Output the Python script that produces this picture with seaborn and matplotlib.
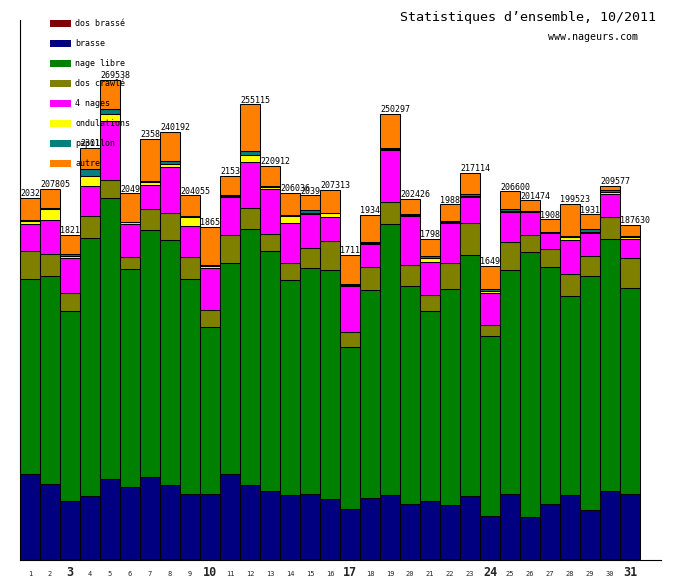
import numpy as np
import pandas as pd
import matplotlib
matplotlib.use("Agg")
import matplotlib.pyplot as plt
from matplotlib.patches import Rectangle
import seaborn as sns

# ---------------- data (in swims) ----------------
days = [str(d) for d in range(1, 32)]
bold_days = ["3", "10", "17", "24", "31"]

series_names = ["dos brassé", "brasse", "nage libre", "dos crawlé",
                "4 nages", "ondulations", "papillon", "autre"]
series_colors = ["#800000", "#000080", "#008000", "#808000",
                 "#FF00FF", "#FFFF00", "#008080", "#FF8000"]

dos_brasse = [0.1, 0.1, 0.5, 0.1, 0.5, 0.1, 0.5, 0.5, 0.5, 0.1, 0.1, 0.1, 0.1, 0.1, 0.5, 0.1,
              0.1, 0.1, 0.1, 0.1, 0.5, 0.5, 0.1, 0.1, 0.1, 0.1, 0.1, 0.5, 0.5, 0.5, 0.5]
brasse = [47.8, 42.7, 32.7, 35.9, 45.0, 40.9, 46.1, 41.6, 36.6, 37.0, 48.2, 42.0, 38.7, 36.4, 36.6, 34.2,
          28.6, 34.7, 36.4, 31.4, 32.7, 30.4, 35.9, 24.7, 37.0, 24.1, 31.4, 36.0, 27.6, 38.3, 36.6]
nage_libre = [109.6, 116.3, 106.4, 144.5, 157.4, 122.1, 138.3, 137.2, 120.4, 93.5, 118.2, 143.4, 134.4,
              120.4, 126.6, 128.2, 90.7, 116.5, 151.8, 122.1, 106.4, 121.0, 135.0, 100.8, 125.4, 148.4,
              132.7, 111.4, 131.0, 141.1, 115.4]
dos_crawle = [15.7, 12.5, 10.2, 12.3, 10.1, 6.7, 11.8, 15.1, 12.3, 9.5, 15.7, 11.8, 9.5, 9.5, 11.2, 16.2,
              8.4, 12.9, 12.3, 11.8, 9.0, 14.6, 17.9, 6.2, 15.7, 9.5, 10.1, 12.3, 11.2, 12.3, 16.8]
quatre_nages = [15.1, 18.9, 19.4, 16.8, 32.6, 18.5, 13.4, 25.8, 17.4, 23.5, 21.3, 25.8, 25.2, 22.4, 19.0,
                13.4, 25.8, 12.9, 29.1, 27.4, 18.5, 22.4, 14.6, 17.9, 16.8, 12.9, 9.0, 19.0, 12.9, 12.9, 10.6]
ondulations = [1.5, 5.9, 0.9, 5.6, 4.3, 0.7, 1.5, 1.7, 5.0, 1.1, 0.2, 3.9, 0.7, 3.9, 0.2, 2.2,
               0.2, 0.2, 0.2, 0.2, 2.2, 0.2, 0.2, 1.1, 0.2, 0.2, 0.2, 1.5, 0.2, 1.1, 1.1]
papillon = [0.8, 0.7, 1.1, 3.9, 2.8, 0.3, 0.7, 1.3, 0.2, 0.7, 0.6, 1.8, 0.7, 0.7, 1.7, 0.2,
            0.7, 0.7, 0.7, 0.6, 0.7, 0.7, 1.1, 0.7, 1.1, 0.2, 0.2, 0.7, 1.7, 1.1, 0.7]
autre = [12.3, 10.6, 10.9, 11.8, 16.2, 16.1, 23.6, 16.6, 11.8, 21.1, 11.0, 26.3, 11.4, 12.2, 8.4, 12.7,
         16.5, 15.3, 19.3, 8.8, 9.9, 9.4, 12.2, 13.3, 10.1, 6.0, 7.0, 18.0, 8.4, 2.2, 6.0]

total_labels = ["2032", "207805", "1821", "2301", "269538", "2049", "2358", "240192", "204055",
                "1865", "2153", "255115", "220912", "206036", "2039", "207313", "1711", "1934",
                "250297", "202426", "1798", "1988", "217114", "1649", "206600", "201474", "1908",
                "199523", "1931", "209577", "187630"]

title = "Statistiques d’ensemble, 10/2011"
subtitle = "www.nageurs.com"

layers = [dos_brasse, brasse, nage_libre, dos_crawle, quatre_nages, ondulations, papillon, autre]
layers = [np.array(l) * 1000.0 for l in layers]

# ---------------- figure ----------------
sns.set_theme(style="white")
plt.rcParams["font.family"] = ["DejaVu Sans Mono", "DejaVu Sans"]

W, H = 680, 580
fig = plt.figure(figsize=(W / 100, H / 100), dpi=100)
fig.patch.set_facecolor("white")

def fx(px):
    return px / W

def fy(py):
    return 1 - py / H

ax_left, ax_right, ax_top, ax_bottom = 20, 661, 20, 560
ax = fig.add_axes([fx(ax_left), fy(ax_bottom), (ax_right - ax_left) / W, (ax_bottom - ax_top) / H])
ax.set_facecolor("white")

px_per_unit = 560.0  # swims per pixel
ymax = (ax_bottom - ax_top) * px_per_unit

bottom = np.zeros(len(days))
for name, col, vals in zip(series_names, series_colors, layers):
    lw = 0 if name == "dos brassé" else 0.75
    sns.barplot(x=days, y=vals, order=days, bottom=bottom, color=col, saturation=1,
                edgecolor="black", linewidth=lw, width=1.0, errorbar=None, ax=ax)
    bottom = bottom + vals

totals = bottom

# layering: each bar drawn above the previous bar's label
for p in ax.patches:
    j = int(round(p.get_x() + p.get_width() / 2))
    p.set_zorder(2 + j * 0.1)

for j, (tot, lab) in enumerate(zip(totals, total_labels)):
    ax.annotate(lab, xy=(j - 0.5, tot), xytext=(0, 1.2), textcoords="offset points",
                ha="left", va="baseline", fontsize=6, color="black",
                zorder=2 + j * 0.1 + 0.05, annotation_clip=False)

ax.set_xlim(-0.5, (ax_right - ax_left) / 20.0 - 0.5)
ax.set_ylim(0, ymax)
ax.set_yticks([])
ax.set_xlabel("")
ax.set_ylabel("")
for s in ["top", "right"]:
    ax.spines[s].set_visible(False)
for s in ["left", "bottom"]:
    ax.spines[s].set_color("black")
    ax.spines[s].set_linewidth(0.8)

ax.set_xticks(range(len(days)))
ax.set_xticklabels(days)
ax.tick_params(axis="x", length=0, pad=11.5)
for t in ax.get_xticklabels():
    t.set_va("baseline")
    if t.get_text() in bold_days:
        t.set_fontsize(8.5)
        t.set_fontweight("bold")
    else:
        t.set_fontsize(5)

# title texts
fig.text(fx(400), fy(17), title, ha="left", va="center", fontsize=9.6, color="black")
fig.text(fx(548), fy(37.5), subtitle, ha="left", va="center", fontsize=7.2, color="black")

# manual legend
for k, (name, col) in enumerate(zip(series_names, series_colors)):
    top = 20 + 20 * k
    fig.add_artist(Rectangle((fx(50), fy(top + 7)), 21 / W, 7 / H, transform=fig.transFigure,
                             facecolor=col, edgecolor="none", zorder=10))
    fig.text(fx(75), fy(top + 3.5), name, ha="left", va="center", fontsize=6,
             color="black", zorder=11)

fig.savefig("out.png", dpi=100, facecolor="white")
